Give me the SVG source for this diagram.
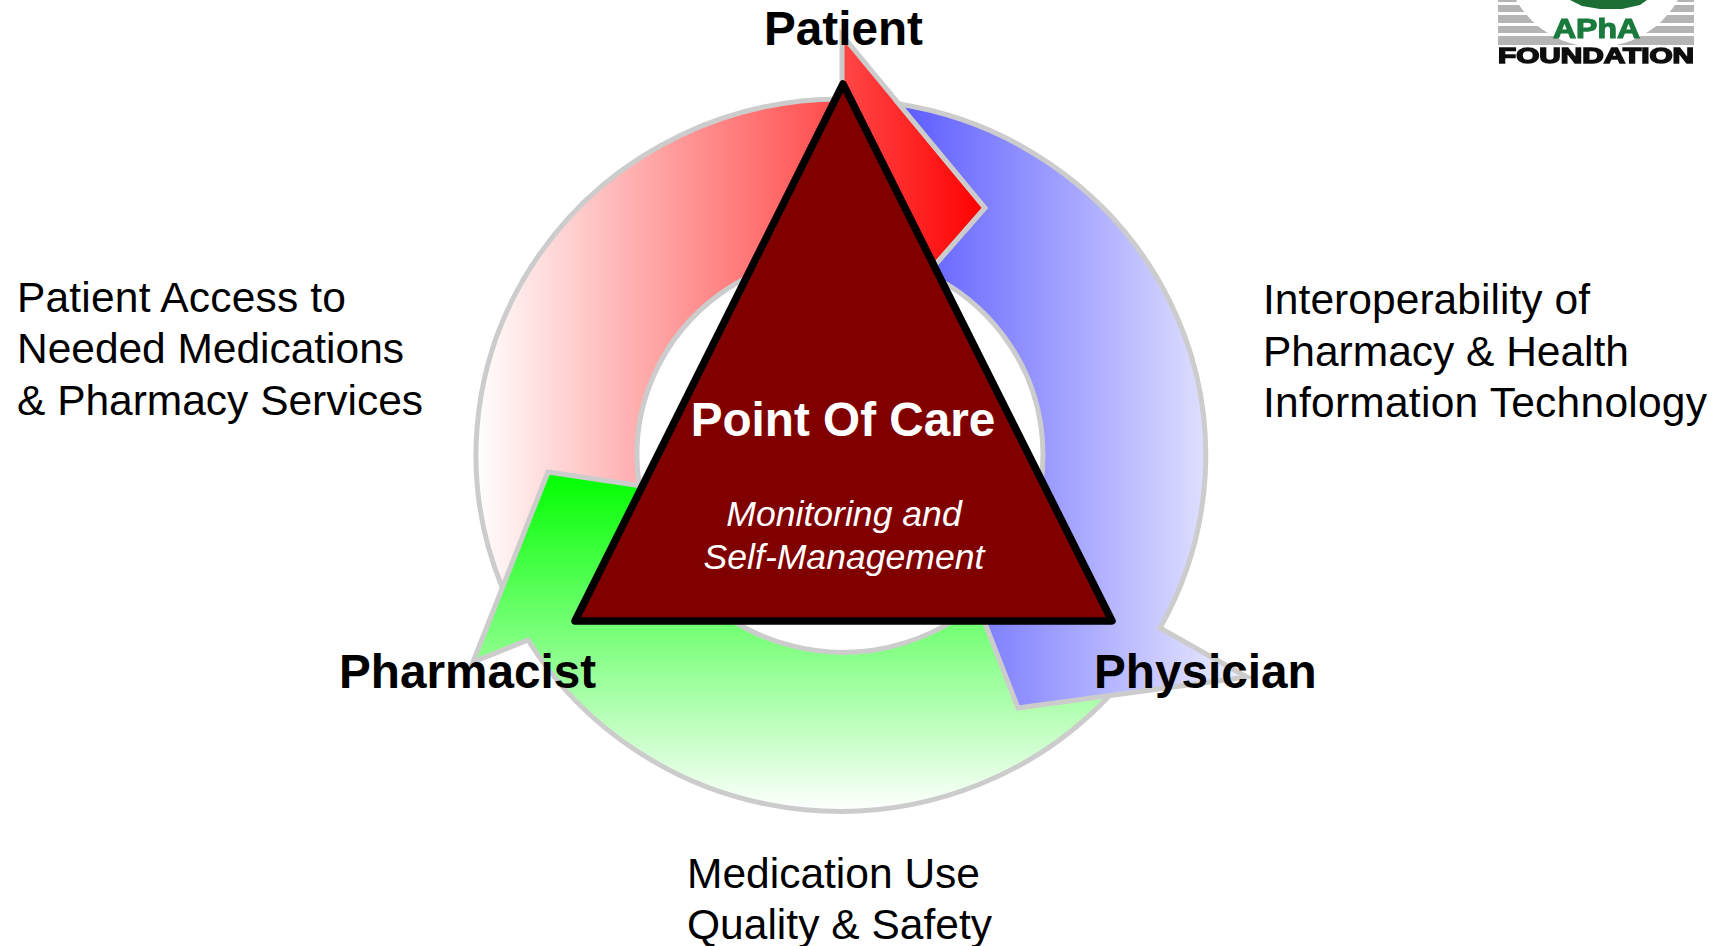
<svg xmlns="http://www.w3.org/2000/svg" width="1725" height="946" viewBox="0 0 1725 946">
<style>
text{font-family:"Liberation Sans",Arial,sans-serif;fill:#000}
.arrow{stroke:#ccc;stroke-width:5;stroke-linejoin:miter}
.lbl{font-size:42.5px}
.role{font-size:47.7px;font-weight:bold}
.sub{font-size:35.6px;font-style:italic;fill:#fff;text-anchor:middle}
</style>
<defs>
<linearGradient id="gr" gradientUnits="userSpaceOnUse" x1="475" y1="0" x2="985" y2="0"><stop offset="0" stop-color="#fff"/><stop offset="1" stop-color="#f00"/></linearGradient>
<linearGradient id="gg" gradientUnits="userSpaceOnUse" x1="0" y1="472" x2="0" y2="812"><stop offset="0" stop-color="#0f0"/><stop offset="1" stop-color="#fff"/></linearGradient>
<linearGradient id="gb" gradientUnits="userSpaceOnUse" x1="690" y1="0" x2="1281" y2="0"><stop offset="0" stop-color="#00f"/><stop offset="1" stop-color="#fff"/></linearGradient>
<filter id="soft" x="-5%" y="-5%" width="110%" height="110%"><feGaussianBlur stdDeviation="0.7"/></filter>
</defs>
<rect width="1725" height="946" fill="#fff"/>
<g id="cycle">
<path id="arrow-patient" class="arrow" fill="url(#gr)" d="M842,35 L985,208 L935,265 L930,275 A204,200 0 0 0 639,483 L502,587 A365,356 0 0 1 842,99 Z"/>
<path id="arrow-pharmacist" class="arrow" fill="url(#gg)" d="M548,472 L642,486 A204,200 0 0 0 1000,580 L1110,695 A365,356 0 0 1 528,640 L473,662 Z"/>
<path id="arrow-physician" class="arrow" fill="url(#gb)" d="M899,104 A365,356 0 0 1 1160,628 L1247,677 L1018,708 L985,623 L975,603 A204,200 0 0 0 930,275 L935,265 L985,208 Z"/>
</g>
<g id="point-of-care">
<polygon points="843,84 1112,621 575,621" fill="#800000" stroke="#000" stroke-width="7.5" stroke-linejoin="round"/>
<text x="843" y="436" class="role" style="fill:#fff;text-anchor:middle">Point Of Care</text>
<text x="844" y="526" class="sub">Monitoring and</text>
<text x="844" y="569" class="sub">Self-Management</text>
</g>
<g id="patient"><text x="764" y="45" class="role">Patient</text></g>
<g id="pharmacist"><text x="339" y="688" class="role">Pharmacist</text></g>
<g id="physician"><text x="1094" y="688" class="role">Physician</text></g>
<g id="label-access">
<text x="17" y="312" class="lbl" textLength="329">Patient Access to</text>
<text x="17" y="363" class="lbl" textLength="387">Needed Medications</text>
<text x="17" y="415" class="lbl" textLength="406">&amp; Pharmacy Services</text>
</g>
<g id="label-interop">
<text x="1263" y="314" class="lbl" textLength="327">Interoperability of</text>
<text x="1263" y="366" class="lbl" textLength="366">Pharmacy &amp; Health</text>
<text x="1263" y="417" class="lbl" textLength="444">Information Technology</text>
</g>
<g id="label-quality">
<text x="687" y="888" class="lbl" textLength="293">Medication Use</text>
<text x="687" y="939" class="lbl" textLength="305">Quality &amp; Safety</text>
</g>
<g id="logo" filter="url(#soft)">
<g fill="#b4b4b4">
<rect x="1498" y="0" width="196" height="2"/>
<rect x="1498" y="5" width="196" height="7"/>
<rect x="1498" y="15" width="196" height="8"/>
<rect x="1498" y="26" width="196" height="7"/>
<rect x="1498" y="36" width="196" height="9"/>
</g>
<ellipse cx="1597" cy="-43" rx="92" ry="90" fill="#fff"/>
<path d="M1570,0 L1647,0 L1640,5 L1622,9 L1600,9 L1582,6 Z" fill="#1a6e35"/>
<text x="1553" y="38" font-size="28" font-weight="bold" stroke="#1a7a3c" stroke-width="1.2" textLength="87" lengthAdjust="spacingAndGlyphs" style="fill:#1a7a3c">APhA</text>
<text x="1498" y="63" font-size="22" font-weight="bold" stroke="#111" stroke-width="1.5" textLength="196" lengthAdjust="spacingAndGlyphs" style="fill:#111">FOUNDATION</text>
</g>
</svg>
